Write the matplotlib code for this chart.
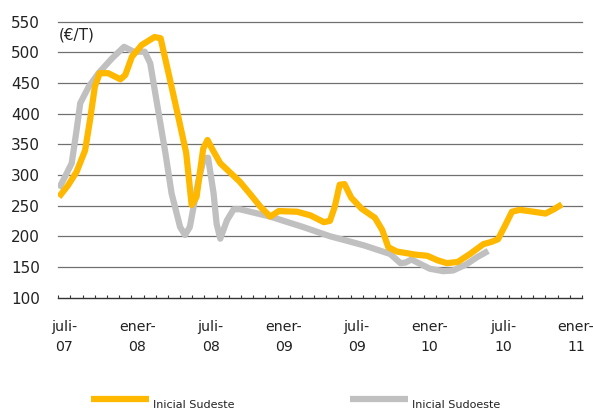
import matplotlib
matplotlib.use("Agg")
import matplotlib.pyplot as plt
from matplotlib.lines import Line2D

# Month positions (months since start of July 2007) and values (EUR/T)
sudeste_x = [0.05, 0.8, 1.5, 2.2, 2.6, 3.0, 3.4, 4.1, 5.1, 5.5, 6.05, 6.85, 7.9, 8.4,
             9.05, 9.85, 10.5, 10.95, 11.35, 11.9, 12.25, 12.7, 13.3, 14.9, 15.7, 16.6,
             17.4, 18.1, 19.6, 20.7, 21.8, 22.3, 22.7, 23.1, 23.5, 24.05, 24.9, 26.0,
             26.6, 27.1, 27.8, 29.3, 30.3, 31.1, 31.9, 32.8, 33.8, 34.9, 35.6, 36.1,
             36.7, 37.25, 37.9, 39.0, 40.0, 40.7, 41.35]
sudeste_v = [264, 283, 305, 340, 389, 444, 466, 466, 456, 463, 493, 512, 525, 523,
             466, 395, 336, 251, 264, 343, 357, 340, 319, 289, 270, 248,
             232, 241, 240, 234, 223, 225, 248, 284, 285, 263, 245, 230,
             210, 182, 175, 170, 168, 161, 156, 158, 171, 187, 191, 195,
             218, 240, 243, 240, 237, 244, 252]

sudoeste_x = [0.05, 0.55, 1.1, 1.5, 1.8, 2.5, 3.3, 4.4, 5.4, 6.2, 7.1, 7.55, 8.1, 8.8,
              9.3, 10.0, 10.4, 10.8, 11.5, 11.95, 12.3, 12.75, 13.0, 13.3, 13.85, 14.4,
              14.9, 17.4, 20.1, 22.3, 24.0, 25.1, 27.25, 28.1, 28.5, 29.0, 29.7, 30.5,
              31.6, 32.4, 33.5, 34.4, 35.3]
sudoeste_v = [278, 297, 319, 373, 417, 444, 466, 490, 509, 501, 501, 482, 417, 335,
              270, 215, 202, 215, 290, 327, 328, 270, 220, 196, 226, 244,
              244, 232, 215, 200, 191, 185, 171, 156, 157, 162, 155, 147,
              143, 144, 154, 166, 176]

tick_labels = ["juli-\n07", "ener-\n08", "juli-\n08", "ener-\n09",
               "juli-\n09", "ener-\n10", "juli-\n10", "ener-\n11"]
n_months = 43
series_names = ["Inicial Sudeste", "Inicial Sudoeste"]

YELLOW = "#FFB800"
GREY = "#C0C0C0"

plt.rcParams['font.family'] = ['DejaVu Sans']

fig = plt.figure(figsize=(5.93, 4.12), dpi=100)
ax = fig.add_axes([58.3 / 593, 1 - 297.5 / 412, (582 - 58.3) / 593, (297.5 - 21.7) / 412])

ax.plot(sudoeste_x, sudoeste_v, color=GREY, lw=4.5, solid_joinstyle='round',
        solid_capstyle='butt', zorder=3)
ax.plot(sudeste_x, sudeste_v, color=YELLOW, lw=4.5, solid_joinstyle='round',
        solid_capstyle='butt', zorder=4)

ax.set_xlim(0, n_months)
ax.set_ylim(100, 550)
ax.set_yticks(range(100, 551, 50))
ax.grid(axis='y', color='#707070', lw=0.9)
for gl in ax.get_ygridlines():
    gl.set_clip_on(False)
ax.set_axisbelow(True)

for s in ['top', 'right', 'left']:
    ax.spines[s].set_visible(False)
ax.spines['bottom'].set_color('#333333')
ax.spines['bottom'].set_linewidth(0.9)

ax.set_xticks(range(0, n_months + 1), minor=True)
ax.set_xticks([0.5 + 6 * i for i in range(len(tick_labels))])
ax.set_xticklabels(tick_labels, linespacing=1.6)
ax.tick_params(axis='x', which='minor', direction='in', length=2.5, width=0.8,
               color='#333333')
ax.tick_params(axis='x', which='major', length=0, pad=16, labelsize=10.2,
               labelcolor='#222222')
ax.tick_params(axis='y', length=0, pad=13, labelsize=11, labelcolor='#222222')

ax.text(0.0, 0.98, "(€/T)", transform=ax.transAxes, ha='left', va='top',
        fontsize=11, color='#222222')

# legend drawn at the bottom
ly = 1 - 399 / 412
fig.add_artist(Line2D([91 / 593, 149 / 593], [ly, ly], color=YELLOW, lw=4.5,
                      solid_capstyle='butt'))
fig.add_artist(Line2D([350 / 593, 408 / 593], [ly, ly], color=GREY, lw=4.5,
                      solid_capstyle='butt'))
ty = 1 - 405 / 412
fig.text(153 / 593, ty, series_names[0], fontsize=8, va='center', ha='left',
         color='#222222')
fig.text(412 / 593, ty, series_names[1], fontsize=8, va='center', ha='left',
         color='#222222')

fig.savefig("out.png", dpi=100)
